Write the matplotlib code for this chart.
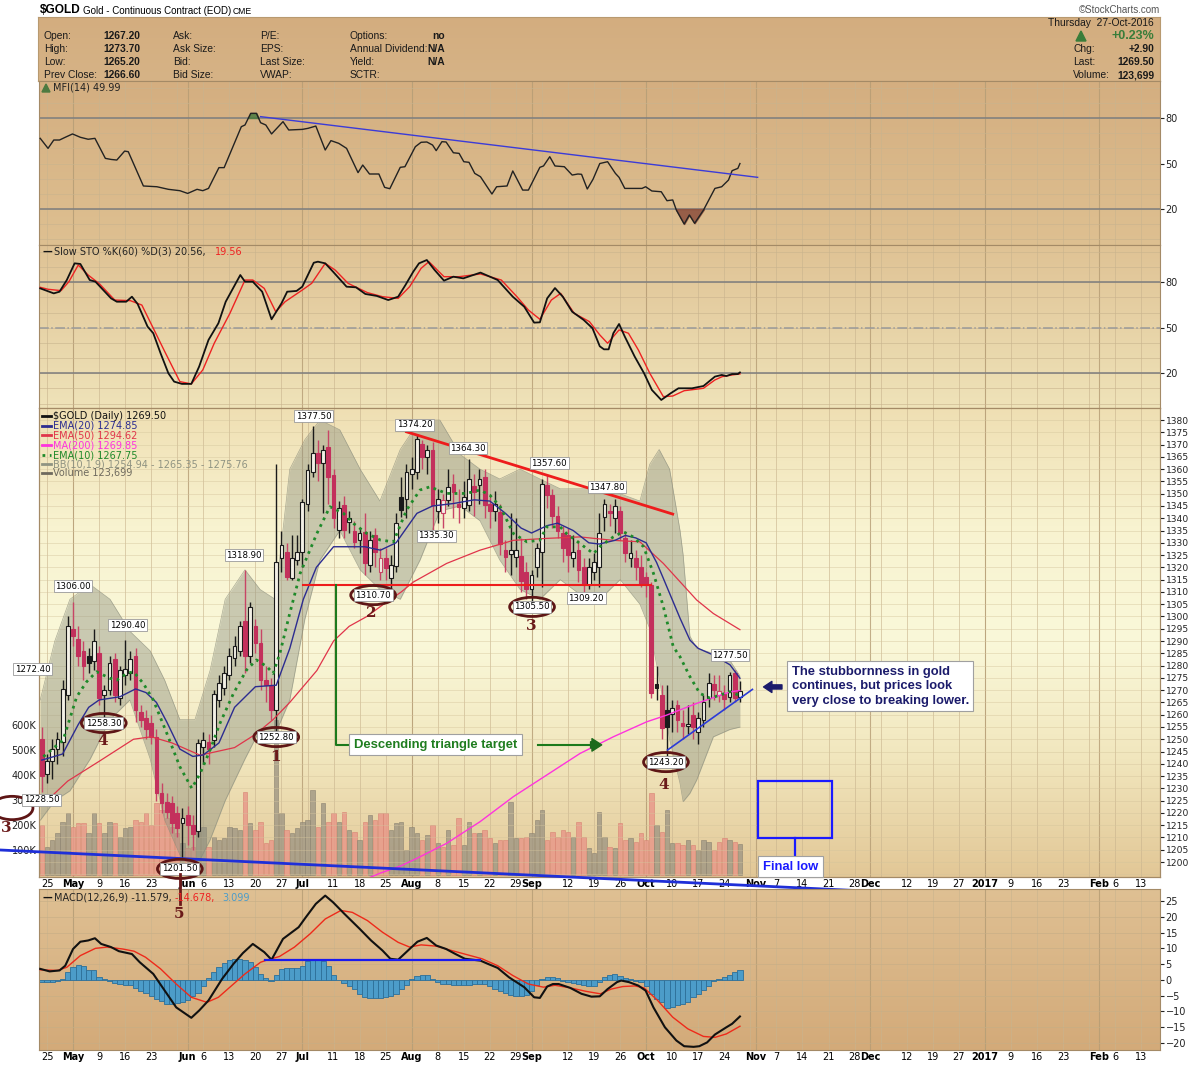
import numpy as np
import matplotlib
import matplotlib.pyplot as plt
from matplotlib.patches import Rectangle, Ellipse, Polygon
from matplotlib.lines import Line2D
from matplotlib.colors import LinearSegmentedColormap

matplotlib.use('Agg')

# ---------------------------------------------------------------
# data
# trading-day index: 0 = Mon 25-Apr-2016, -1 = Fri 22-Apr, 133 = Thu 27-Oct
# ---------------------------------------------------------------
opens = [1250, 1236, 1241, 1246, 1249, 1268, 1295, 1291, 1286, 1284,
         1282, 1285, 1268, 1270, 1282.5, 1267, 1276, 1277, 1284, 1261,
         1258.5, 1256.5, 1251, 1228, 1224.6, 1224, 1220, 1216, 1219, 1215,
         1212.6, 1247, 1249, 1249.7, 1266, 1271, 1276, 1283, 1286, 1298,
         1284, 1296, 1289, 1274, 1272, 1262, 1323.7, 1326.4, 1315.5, 1323,
         1326.4, 1346, 1359, 1366.4, 1362.3, 1369, 1357.5, 1335.3, 1345.5, 1338.6,
         1335, 1331, 1334.5, 1321, 1333, 1318, 1323.8, 1315.5, 1320.6, 1348.8,
         1348, 1358.1, 1358.8, 1370.3, 1365, 1367.6, 1343, 1342, 1347.4, 1354,
         1346, 1344, 1345.4, 1353, 1353.5, 1356.8, 1346, 1343, 1342.5, 1327,
         1325.6, 1324.3, 1324.8, 1318, 1311, 1320.2, 1326.4, 1353.5, 1349.4, 1341,
         1334, 1333, 1324, 1327, 1320, 1313, 1318, 1320, 1340.6, 1343,
         1340, 1343, 1332, 1324, 1324, 1320, 1316, 1313, 1272.7, 1268,
         1262, 1260.4, 1263.9, 1256.5, 1255.5, 1260, 1253, 1258, 1267, 1272.7,
         1268, 1268.5, 1267.3, 1276.8, 1267.2]
highs = [1255, 1244, 1250, 1253, 1274, 1300, 1306, 1296, 1290, 1287,
         1295, 1288, 1272, 1284, 1285, 1280, 1290.4, 1286, 1287, 1264,
         1262, 1260, 1254, 1232, 1228, 1227, 1223, 1222, 1223, 1219,
         1250, 1253, 1252, 1270, 1276, 1280, 1287, 1292, 1298, 1318.9,
         1306, 1299, 1295, 1280, 1275, 1362, 1335, 1330, 1333, 1333,
         1348, 1362, 1377.5, 1372, 1370, 1376, 1360, 1347, 1349, 1343,
         1339, 1336, 1342, 1335, 1336, 1328, 1328, 1325, 1342, 1357,
         1362, 1365, 1374.2, 1372, 1370, 1371, 1352, 1350, 1360, 1358,
         1352, 1355, 1364.3, 1358, 1360, 1360, 1350, 1351, 1346, 1331,
         1342, 1340, 1332, 1322, 1319, 1330, 1356, 1357.6, 1352, 1345,
         1337, 1336, 1333, 1331, 1324, 1324, 1326, 1342, 1347.8, 1346,
         1348, 1345, 1335, 1331, 1327, 1325, 1318, 1314, 1280, 1272,
         1272, 1266, 1266, 1262, 1264, 1265, 1261, 1268, 1277, 1276,
         1276, 1272, 1277.5, 1278, 1273.7]
lows = [1228.5, 1232, 1234, 1240, 1243, 1266, 1288, 1280, 1274, 1277,
        1278, 1264, 1258.3, 1268, 1265, 1264, 1272, 1274, 1257, 1255,
        1250, 1248, 1225, 1220, 1218, 1212, 1210, 1201.5, 1207, 1205,
        1210, 1240, 1240, 1247, 1263, 1268, 1274, 1280, 1284, 1277,
        1281, 1285, 1270, 1265, 1258, 1252.8, 1318, 1315, 1315, 1321,
        1320, 1343, 1357, 1355, 1342, 1346, 1336, 1332, 1332, 1334,
        1328, 1326, 1317, 1318, 1320, 1315, 1315, 1311, 1318, 1340.7,
        1340, 1352, 1356, 1360, 1358, 1335.3, 1338, 1336, 1345, 1340,
        1338, 1340, 1343, 1341, 1346, 1340, 1336, 1339, 1325, 1318,
        1317, 1320, 1310, 1307, 1305.5, 1316, 1312, 1344, 1336, 1332,
        1322, 1318, 1320, 1314, 1309.2, 1311, 1315, 1312, 1335, 1337,
        1334, 1331, 1322, 1320, 1315, 1312, 1308, 1267, 1266, 1250,
        1243.2, 1253, 1253, 1250, 1252, 1250, 1248, 1255, 1263, 1266,
        1265, 1262, 1265, 1265, 1265.2]
closes = [1235, 1241, 1246, 1250, 1270.5, 1296, 1292, 1284, 1280, 1281,
          1290, 1267, 1270, 1281, 1268, 1278, 1278.6, 1282.5, 1262, 1258,
          1254, 1251, 1228, 1224, 1220.5, 1215.7, 1214, 1218, 1215, 1211.5,
          1248.4, 1249.7, 1246, 1268.6, 1273, 1277, 1284, 1288, 1296, 1284,
          1304, 1289, 1274, 1272, 1262, 1322, 1329, 1316.2, 1323.7, 1326.4,
          1346.7, 1359.6, 1366.4, 1362.3, 1367.7, 1357, 1340, 1344.2, 1335.3, 1339.9,
          1330.5, 1333.8, 1321.6, 1331, 1326.4, 1324, 1319.8, 1321, 1338, 1343.4,
          1359, 1360.2, 1372.4, 1364.9, 1367.7, 1345.2, 1348, 1347.5, 1352.8, 1350.8,
          1344.7, 1348.8, 1356, 1350.8, 1356, 1345.5, 1343, 1346, 1329.7, 1324.3,
          1327, 1327, 1314.6, 1311, 1317, 1328, 1354, 1349.4, 1341, 1335,
          1328, 1325, 1326.4, 1318.8, 1313, 1320, 1322, 1334, 1346, 1342,
          1345, 1334, 1326, 1326, 1320, 1313.4, 1313, 1269, 1270.7, 1254.5,
          1255, 1262.6, 1257.8, 1255.2, 1256.2, 1255, 1258.5, 1265, 1273, 1270,
          1269.8, 1266.5, 1276, 1266.6, 1269.5]
volume_k = [200, 113, 140, 167, 213, 247, 193, 209, 207, 167,
            247, 207, 167, 213, 207, 153, 187, 193, 220, 213,
            247, 200, 287, 260, 227, 193, 167, 127, 107, 113,
            233, 193, 113, 153, 140, 147, 193, 187, 180, 333,
            207, 180, 213, 127, 140, 620, 247, 180, 167, 187,
            213, 220, 340, 193, 287, 213, 247, 213, 253, 180,
            173, 140, 213, 240, 220, 247, 247, 180, 207, 213,
            100, 193, 167, 140, 160, 200, 127, 113, 180, 120,
            227, 120, 213, 167, 167, 180, 147, 127, 140, 140,
            293, 147, 147, 153, 167, 220, 260, 140, 173, 153,
            180, 173, 153, 213, 153, 107, 87, 253, 153, 113,
            107, 207, 140, 147, 133, 167, 140, 327, 200, 173,
            260, 127, 127, 120, 140, 120, 100, 140, 133, 100,
            133, 147, 140, 133, 124]

# overlays: (day, value)
ema20 = [(-1, 1241.5), (3, 1244), (6, 1256), (8, 1263), (10, 1266), (14, 1267.3),
         (17, 1270.5), (19, 1269), (21, 1265), (23, 1257), (25.5, 1246), (28, 1243),
         (30, 1243.6), (33, 1248.5), (36, 1263), (40, 1271.4), (44, 1272), (46.6, 1287),
         (49.2, 1307), (51.7, 1320), (55, 1328.4), (61, 1328.4), (64, 1327), (67, 1330),
         (69, 1336), (71, 1342), (74, 1345), (78, 1346), (82, 1347.5), (85, 1347),
         (88, 1342), (91, 1336), (93, 1334), (96, 1337), (98, 1338), (101, 1335),
         (104, 1330), (106, 1329.5), (109, 1331), (111, 1333), (113, 1332), (115, 1330),
         (117, 1322), (118.3, 1315.5), (121.5, 1299.3), (123.4, 1290.4), (125, 1287),
         (127.9, 1284.3), (131.1, 1280.3), (133, 1274.85)]
ema50 = [(-1, 1223), (4, 1233), (10, 1241), (16.6, 1250), (20, 1251), (24, 1248.5),
         (29.4, 1243.5), (36, 1246.6), (40, 1252), (43.4, 1258), (46.6, 1265),
         (51.8, 1278), (55, 1290), (58, 1296), (61.4, 1300), (64.6, 1305), (68, 1310),
         (70.3, 1314), (76.7, 1321.6), (83.1, 1327), (89.5, 1331), (95.9, 1331.8),
         (102.3, 1332.4), (108.7, 1331), (113.8, 1330.4), (118.3, 1321.6),
         (124.7, 1306.7), (127.9, 1301.2), (133, 1294.62)]
ma200 = [(60, 1192), (64, 1195.5), (68, 1198.5), (71, 1201.5), (76.7, 1207.6),
         (83.1, 1216.4), (89.5, 1226.6), (95.9, 1235.4), (102.3, 1244.2), (108.7, 1251),
         (115.1, 1257.1), (118.9, 1259.8), (124.7, 1264.6), (131.1, 1269.3), (133, 1269.85)]
ema10 = [(-0.7, 1242.9), (3.1, 1249.7), (5.7, 1267.3), (7.6, 1273.4), (9.5, 1277.5),
         (12.1, 1274.8), (13.4, 1274.1), (15.3, 1276.8), (16.6, 1277.5), (18.5, 1272.7),
         (20.4, 1266), (23, 1252.4), (25.5, 1238.8), (27.8, 1230), (29.4, 1236.1),
         (31.3, 1245.6), (33.2, 1256.5), (35.8, 1268.7), (38.3, 1278.2), (40.2, 1282.3),
         (42.2, 1279.6), (43.4, 1276.8), (44.7, 1285), (46.6, 1301.3), (48.6, 1317.6),
         (51.8, 1333.8), (54.3, 1344.7), (56.9, 1342), (58.8, 1337.9), (61.4, 1333.8),
         (64, 1331.1), (66.5, 1330.4), (69, 1343.3), (71.6, 1351.5), (73.5, 1352.8),
         (76.7, 1350.1), (80.5, 1350.1), (83.1, 1351.5), (85, 1349.4), (87, 1344.7),
         (89.5, 1333.8), (92.1, 1330.4), (94.6, 1331.1), (95.9, 1336.5), (98.5, 1336.5),
         (99.7, 1333.8), (102.3, 1329.7), (104.9, 1325.6), (106.1, 1328.4), (108.7, 1332.4),
         (110.6, 1334.5), (112.5, 1332.4), (114.5, 1328.4), (116.4, 1317.6), (118.3, 1304),
         (120.2, 1287.7), (121.5, 1283.6), (123.4, 1275.5), (125.3, 1268.7), (127.3, 1266.7),
         (129.2, 1268), (131.1, 1269.4), (133, 1267.75)]
# Bollinger band (10, 1.9): (day, lower, upper)
bband = [(-1.3, 1217, 1266), (1.5, 1225, 1290), (4.4, 1229, 1307), (8.3, 1242, 1313),
         (12.1, 1258, 1307), (15.9, 1266, 1294), (19.8, 1242, 1286), (22.6, 1217, 1274),
         (25.5, 1203, 1258), (28.4, 1197, 1258), (31.3, 1209, 1278), (34.2, 1225, 1307),
         (38.0, 1242, 1319), (40.9, 1254, 1311), (43.8, 1252, 1307), (46.6, 1266, 1360),
         (49.5, 1299, 1372), (52.4, 1323, 1380), (56.2, 1335, 1376), (60.1, 1319, 1360),
         (63.9, 1311, 1347), (67.8, 1307, 1368), (71.6, 1323, 1380), (75.4, 1343, 1380),
         (79.3, 1345, 1366), (83.1, 1339, 1360), (86.9, 1323, 1356), (90.8, 1311, 1360),
         (94.6, 1307, 1356), (98.5, 1315, 1352), (102.3, 1309, 1352), (106.1, 1307, 1352),
         (110.0, 1315, 1350), (113.8, 1305, 1347), (115.7, 1295, 1362), (117.5, 1275, 1368),
         (119.5, 1250, 1360), (121.5, 1232, 1335), (122.1, 1224.6, 1325), (123.4, 1228, 1292),
         (124.7, 1233.4, 1287), (127.9, 1251, 1285), (131.1, 1254, 1282), (133, 1254.94, 1275.76)]

mfi = [(-1.3, 66.6), (0.2, 60.0), (1.3, 65.5), (2.4, 65.5), (3.5, 67.3), (4.9, 69.5),
       (6.4, 67.3), (7.9, 66.0), (9.2, 66.6), (11.2, 53.4), (12.3, 52.7), (13.4, 52.3),
       (14.9, 58.2), (15.6, 57.8), (18.5, 35.2), (21.1, 34.7), (23.3, 33.0), (25.5, 32.1),
       (27.0, 30.3), (28.8, 33.0), (29.9, 32.1), (31.0, 33.6), (33.0, 47.3), (34.0, 47.3),
       (37.3, 74.3), (38.0, 75.4), (39.1, 83.1), (40.2, 83.1), (41.0, 76.9), (42.0, 75.4),
       (43.1, 69.5), (45.3, 77.6), (46.4, 72.1), (49.0, 72.5), (50.1, 73.2), (51.6, 74.7),
       (53.4, 58.9), (54.5, 65.1), (56.0, 63.3), (57.5, 60.0), (59.7, 44.0), (60.6, 49.0),
       (61.9, 43.1), (63.7, 43.1), (64.8, 34.3), (65.8, 33.4), (67.8, 47.5), (68.7, 47.9),
       (70.7, 61.1), (71.8, 64.0), (72.9, 64.2), (74.0, 62.2), (74.7, 58.5), (75.8, 64.4),
       (76.6, 64.2), (78.0, 57.1), (79.1, 56.7), (80.0, 51.2), (81.0, 50.8), (82.1, 43.5),
       (83.2, 41.3), (85.4, 29.9), (86.3, 34.7), (88.3, 35.2), (89.4, 45.1), (91.3, 32.5),
       (92.4, 32.5), (94.6, 47.5), (95.3, 48.4), (96.5, 54.5), (97.5, 48.4), (99.3, 47.9),
       (100.8, 42.4), (101.9, 43.1), (102.6, 42.9), (103.7, 33.2), (104.8, 39.6), (106.1, 50.0),
       (107.6, 51.2), (109.1, 43.5), (109.8, 40.9), (110.9, 33.6), (114.2, 33.6), (114.9, 34.7),
       (116.1, 31.9), (117.9, 31.4), (119.0, 25.5), (120.1, 26.0), (120.8, 19.3), (122.3, 10.1),
       (123.3, 16.1), (124.3, 10.6), (126.0, 19.3), (128.2, 33.6), (129.5, 34.7), (130.8, 39.1),
       (131.5, 45.3), (132.6, 46.8), (133, 49.99)]

sto_k = [(-1.3, 76.0), (1.3, 72.7), (2.4, 73.8), (3.8, 81.5), (5.3, 92.5), (6.4, 92.1),
         (8.2, 81.5), (9.3, 80.4), (10.8, 74.9), (12.3, 69.4), (13.4, 67.2), (15.2, 67.2),
         (16.3, 70.5), (17.4, 65.7), (19.3, 50.8), (20.4, 46.4), (21.8, 33.2), (23.3, 20.0),
         (24.4, 14.5), (25.9, 13.0), (27.7, 13.0), (29.2, 24.4), (31.0, 42.0), (32.9, 53.0),
         (34.3, 67.2), (37.1, 84.8), (38.0, 80.4), (39.5, 80.4), (41.3, 73.8), (43.1, 55.6),
         (45.0, 66.1), (46.1, 73.8), (47.9, 74.3), (49.0, 77.1), (51.2, 92.9), (52.0, 93.6),
         (53.4, 92.5), (54.9, 87.0), (57.5, 77.1), (59.3, 76.7), (61.1, 72.3), (63.3, 71.0),
         (65.5, 68.3), (67.4, 70.5), (68.8, 78.2), (70.3, 87.0), (71.4, 92.5), (72.9, 94.7),
         (74.4, 88.1), (76.2, 81.1), (78.0, 83.7), (79.9, 82.6), (83.2, 86.4), (86.5, 81.5),
         (89.4, 70.5), (91.6, 63.9), (93.5, 53.4), (94.6, 53.6), (96.0, 69.4), (97.5, 76.2),
         (99.0, 70.5), (100.8, 60.6), (103.0, 55.2), (104.7, 49.7), (106.1, 37.8), (106.9, 35.8),
         (107.8, 35.8), (108.7, 46.4), (109.8, 52.5), (110.9, 44.2), (112.8, 31.0), (114.6, 20.0),
         (116.1, 9.0), (117.9, 2.4), (119.7, 6.8), (121.2, 10.1), (123.8, 10.1), (126.0, 11.6),
         (128.2, 17.8), (129.5, 18.9), (130.4, 18.2), (131.5, 19.5), (132.6, 19.5), (133, 20.56)]
sto_d = [(-1.3, 76.7), (0.2, 75.4), (2.7, 74.5), (4.2, 80.4), (6.0, 91.4), (7.9, 84.8),
         (10.1, 78.9), (13.0, 68.3), (16.0, 67.9), (18.2, 65.0), (20.4, 49.7), (22.6, 34.3),
         (25.5, 14.5), (27.7, 13.0), (29.9, 22.2), (32.1, 39.8), (35.1, 59.5), (38.0, 81.5),
         (39.5, 81.5), (41.7, 76.0), (43.9, 60.6), (45.7, 67.2), (49.0, 74.9), (50.8, 79.3),
         (53.4, 92.5), (55.3, 88.1), (57.8, 79.3), (61.5, 73.2), (64.4, 70.5), (67.4, 69.4),
         (69.6, 77.1), (71.8, 89.2), (73.3, 93.6), (76.2, 83.7), (79.1, 83.7), (83.2, 85.5),
         (87.2, 81.5), (90.2, 70.5), (92.4, 61.7), (94.6, 55.6), (96.8, 68.3), (98.6, 72.7),
         (101.2, 59.5), (104.1, 54.1), (106.1, 45.3), (107.6, 39.8), (109.8, 48.6), (111.6, 46.4),
         (113.5, 35.4), (115.7, 20.0), (118.3, 4.6), (120.1, 5.0), (122.3, 8.5), (126.0, 10.1),
         (128.2, 15.6), (129.6, 17.8), (131.5, 18.9), (133, 19.56)]

macd = [(-1.3, 3.5), (0.5, 2.7), (2.4, 3.0), (3.5, 4.5), (5.0, 9.8), (6.4, 12.1),
        (7.9, 12.5), (9.2, 13.2), (10.4, 11.4), (12.3, 10.4), (13.8, 9.1), (16.3, 8.2),
        (17.8, 5.6), (20.4, 1.9), (22.6, -3.4), (24.8, -8.7), (27.7, -12.0), (29.2, -9.7),
        (31.0, -6.5), (33.6, 0.3), (35.8, 5.1), (37.6, 8.5), (39.5, 11.4), (41.7, 8.8),
        (43.1, 6.4), (45.3, 13.0), (48.3, 16.7), (49.7, 19.9), (51.6, 24.1), (53.4, 26.7),
        (54.9, 24.6), (57.1, 20.9), (60.0, 16.2), (62.2, 12.5), (64.4, 9.3), (65.9, 6.7),
        (67.4, 6.4), (69.6, 9.8), (71.1, 12.1), (72.9, 13.3), (74.7, 10.9), (76.6, 9.8),
        (78.4, 8.2), (80.2, 6.7), (81.7, 6.4), (83.2, 6.1), (84.6, 5.1), (86.5, 3.8),
        (88.7, 0.8), (91.6, -2.3), (93.5, -5.5), (94.6, -5.7), (96.0, -2.1), (97.1, -1.3),
        (98.2, -1.3), (100.4, -2.5), (102.6, -4.4), (104.5, -5.3), (106.1, -5.2), (107.6, -2.9),
        (109.4, -0.7), (110.2, -0.2), (111.7, -0.7), (113.5, -1.8), (114.9, -3.4), (116.4, -8.7),
        (118.6, -15.0), (120.8, -19.2), (122.3, -21.0), (124.1, -21.2), (125.2, -21.0),
        (126.7, -19.8), (128.2, -17.3), (130.4, -15.0), (131.5, -13.9), (133, -11.579)]
signal = [(-1.3, 3.2), (2.0, 3.0), (3.8, 4.0), (6.4, 7.7), (9.3, 10.0), (11.5, 10.4),
          (14.5, 9.8), (16.7, 9.1), (18.9, 7.2), (21.8, 3.5), (24.8, -1.3), (27.7, -5.5),
          (30.7, -7.1), (32.9, -5.5), (35.1, -2.3), (38.0, 1.9), (41.0, 5.6), (42.4, 6.4),
          (44.6, 7.4), (47.5, 10.4), (50.5, 14.6), (53.4, 19.3), (56.4, 22.0), (58.6, 21.4),
          (61.5, 18.8), (64.4, 15.1), (67.4, 11.9), (69.6, 10.4), (71.8, 11.1), (74.7, 10.7),
          (77.7, 9.3), (80.6, 8.0), (83.5, 6.7), (86.5, 4.5), (89.4, 1.4), (92.4, -1.3),
          (95.3, -2.3), (97.5, -1.7), (100.4, -2.5), (103.4, -3.6), (106.2, -4.4), (108.3, -2.9),
          (110.5, -2.1), (112.8, -1.9), (114.6, -2.5), (117.2, -6.5), (120.1, -11.8),
          (123.0, -15.5), (126.0, -17.9), (128.2, -18.2), (130.4, -17.1), (133, -14.678)]
hist = [-0.7, -0.7, -0.6, -0.3, 0.4, 2.5, 4.0, 4.8, 4.5, 3.2,
        3.0, 1.0, 0.2, -0.2, -1.0, -1.4, -1.6, -1.5, -2.5, -3.5,
        -4.2, -5.0, -6.0, -6.8, -7.5, -7.5, -7.3, -7.0, -6.5, -5.0,
        -4.0, -2.0, 0.5, 2.5, 4.0, 5.5, 6.3, 6.5, 6.5, 6.3,
        5.8, 4.0, 2.0, 0.5, -0.5, 1.5, 3.5, 3.8, 3.8, 3.9,
        4.5, 6.0, 6.5, 6.5, 6.0, 4.5, 1.5, 0.0, -1.0, -2.0,
        -3.0, -4.5, -5.5, -5.8, -5.8, -5.8, -5.5, -5.0, -4.5, -3.0,
        -1.5, 0.3, 1.2, 1.4, 1.4, 0.2, -0.8, -1.2, -1.2, -1.5,
        -1.6, -1.5, -1.5, -1.4, -1.3, -1.3, -2.0, -3.0, -3.6, -4.2,
        -4.8, -5.0, -5.0, -4.8, -3.5, -1.5, 0.3, 0.8, 0.8, 0.5,
        -0.5, -0.8, -1.0, -1.2, -1.6, -1.8, -2.0, -0.7, 0.9, 1.7,
        2.0, 1.1, 0.5, 0.2, -0.3, -0.7, -2.0, -4.5, -6.0, -7.0,
        -9.0, -8.5, -8.0, -7.6, -7.0, -5.5, -4.4, -3.2, -2.0, -0.5,
        0.3, 0.9, 1.6, 2.4, 3.1]

# x axis labels (day index of each label)
tick_days = [0, 5, 10, 15, 20, 27, 30, 35, 40, 45, 49, 55, 60, 65, 70, 75, 80, 85, 90, 93,
             100, 105, 110, 115, 120, 125, 130, 136, 140, 145, 150, 155, 158, 165, 170, 175,
             180, 185, 190, 195, 202, 205, 210]
tick_text = ['25', 'May', '9', '16', '23', 'Jun', '6', '13', '20', '27', 'Jul', '11', '18', '25',
             'Aug', '8', '15', '22', '29', 'Sep', '12', '19', '26', 'Oct', '10', '17', '24',
             'Nov', '7', '14', '21', '28', 'Dec', '12', '19', '27', '2017', '9', '16', '23',
             'Feb', '6', '13']
bold_ticks = {'May', 'Jun', 'Jul', 'Aug', 'Sep', 'Oct', 'Nov', 'Dec', '2017', 'Feb'}
month_days = [5, 27, 49, 70, 93, 115, 136, 158, 180, 202]

# ---------------------------------------------------------------
W, H = 1200, 1067
fig = plt.figure(figsize=(12, 10.67), dpi=100)
fig.patch.set_facecolor('white')
plt.rcParams['font.family'] = ['DejaVu Sans']
ARIAL = 'Liberation Sans'


def box(x0, y0, x1, y1):
    return [x0 / W, 1 - y1 / H, (x1 - x0) / W, (y1 - y0) / H]


def ftext(x, y, s, **kw):
    kw.setdefault('va', 'center')
    return fig.text(x / W, 1 - y / H, s, **kw)


def gradient(ax, colors):
    cmap = LinearSegmentedColormap.from_list('bg', colors)
    ax.imshow(np.linspace(0, 1, 256).reshape(-1, 1), aspect='auto', cmap=cmap,
              extent=[0, 1, 0, 1], transform=ax.transAxes, zorder=0)


XL = ((39 - 47) / 5.21, (1160 - 47) / 5.21)
EDGE = '#a48a66'


def frame(ax):
    for s in ax.spines.values():
        s.set_color(EDGE)
        s.set_linewidth(0.8)
    ax.set_xlim(*XL)
    ax.set_xticks([])
    for d in range(0, 215, 5):
        ax.axvline(d, color='#c9b48e', lw=0.6, alpha=0.7, zorder=0.5)
    for d in month_days:
        ax.axvline(d, color='#b59c74', lw=0.8, alpha=0.8, zorder=0.5)


def right_ticks(ax, ticks, labels=None, size=7):
    ax.yaxis.tick_right()
    ax.set_yticks(ticks)
    if labels is not None:
        ax.set_yticklabels(labels)
    ax.tick_params(axis='y', labelsize=size, length=3, pad=1, colors='#222222')


def xlabels(ax):
    ax.set_xticks(tick_days)
    ax.set_xticklabels(tick_text)
    ax.tick_params(axis='x', labelsize=7, length=0, pad=1.5)
    for t in ax.get_xticklabels():
        if t.get_text() in bold_ticks:
            t.set_fontweight('bold')


def xy(pairs):
    a = np.array(pairs, dtype=float)
    return a[:, 0], a[:, 1]


# ---------------- header ----------------
ftext(40, 10, '$GOLD', fontsize=8.6, fontweight='bold', family=ARIAL)
ftext(83, 10.5, 'Gold - Continuous Contract (EOD)', fontsize=7, family=ARIAL)
ftext(233, 11, 'CME', fontsize=6.2, family=ARIAL)
ftext(1160, 10, '\u00a9StockCharts.com', fontsize=7, color='#555555', ha='right', family=ARIAL)

ax_h = fig.add_axes(box(38, 17, 1160, 81))
gradient(ax_h, ['#d3ad7f', '#d6b386'])
ax_h.set_xticks([])
ax_h.set_yticks([])
for s in ax_h.spines.values():
    s.set_color('#b89a70')

hdr = dict(fontsize=7.4, family=ARIAL, color='#1a1a1a')
rows = [36, 49, 62, 75]
for y, lab, val in zip(rows, ['Open:', 'High:', 'Low:', 'Prev Close:'],
                       ['1267.20', '1273.70', '1265.20', '1266.60']):
    ftext(44, y, lab, **hdr)
    ftext(140, y, val, ha='right', fontweight='bold', **hdr)
for y, a, b, cc in zip(rows, ['Ask:', 'Ask Size:', 'Bid:', 'Bid Size:'],
                       ['P/E:', 'EPS:', 'Last Size:', 'VWAP:'],
                       ['Options:', 'Annual Dividend:', 'Yield:', 'SCTR:']):
    ftext(173, y, a, **hdr)
    ftext(260, y, b, **hdr)
    ftext(350, y, cc, **hdr)
for y, v in zip(rows[:3], ['no', 'N/A', 'N/A']):
    ftext(445, y, v, ha='right', fontweight='bold', **hdr)
ftext(1154, 23, 'Thursday  27-Oct-2016', ha='right', **hdr)
ftext(1154, 36, '+0.23%', ha='right', fontsize=9, fontweight='bold', color='#3a7d3a', family=ARIAL)
fig.add_artist(Polygon([[1076 / W, 1 - 41 / H], [1086 / W, 1 - 41 / H], [1081 / W, 1 - 31 / H]],
                       closed=True, color='#3a7d3a', transform=fig.transFigure))
for y, lab, val in zip(rows[1:], ['Chg:', 'Last:', 'Volume:'], ['+2.90', '1269.50', '123,699']):
    ftext(1073, y, lab, ha='left', **hdr)
    ftext(1154, y, val, ha='right', fontweight='bold', **hdr)

# ---------------- MFI panel ----------------
ax_m = fig.add_axes(box(39, 81, 1160, 245))
gradient(ax_m, ['#d4ae80', '#dec091'])
frame(ax_m)
ax_m.set_ylim(-3.7, 104.4)
for v in range(0, 101, 10):
    ax_m.axhline(v, color='#c9b48e', lw=0.6, alpha=0.7, zorder=0.5)
for v in (80, 20):
    ax_m.axhline(v, color='#7d7d7d', lw=1.1, zorder=1)
right_ticks(ax_m, [80, 50, 20])
md, mv = xy(mfi)
ax_m.plot(md, mv, color='#222222', lw=1, zorder=3)
ax_m.fill_between(md, mv, 20, where=mv < 20, interpolate=True, color='#8b4e3c', alpha=0.85, zorder=2)
ax_m.fill_between(md, mv, 80, where=mv > 80, interpolate=True, color='#4d7a40', alpha=0.85, zorder=2)
ax_m.plot([41.0, 136.4], [80.9, 40.9], color='#3b3bd8', lw=1, zorder=4)
ftext(53, 88, 'MFI(14) 49.99', fontsize=7, color='#222222')
fig.add_artist(Polygon([[42 / W, 1 - 92 / H], [46 / W, 1 - 84 / H], [50 / W, 1 - 92 / H]],
                       closed=True, color='#4d7a40', transform=fig.transFigure))

# ---------------- Slow STO panel ----------------
ax_s = fig.add_axes(box(39, 245, 1160, 408))
gradient(ax_s, ['#dfc294', '#efe3b9'])
frame(ax_s)
ax_s.set_ylim(-2.9, 104.6)
for v in range(0, 101, 10):
    ax_s.axhline(v, color='#c9b48e', lw=0.6, alpha=0.7, zorder=0.5)
for v in (80, 20):
    ax_s.axhline(v, color='#7d7d7d', lw=1.1, zorder=1)
ax_s.axhline(50, color='#9a9a9a', lw=1.1, ls='-.', zorder=1)
right_ticks(ax_s, [80, 50, 20])
kd, kv = xy(sto_k)
dd, dv = xy(sto_d)
ax_s.plot(dd, dv, color='#ee2222', lw=1, zorder=3)
ax_s.plot(kd, kv, color='#111111', lw=1.3, zorder=4)
ftext(42, 252, '\u2014', fontsize=7, color='#111111', fontweight='bold')
ftext(54, 252, 'Slow STO %K(60) %D(3) 20.56,', fontsize=7, color='#222222')
ftext(215, 252, '19.56', fontsize=7, color='#ee2222')

# ---------------- price panel ----------------
days = np.arange(-1, -1 + len(closes))
o = np.array(opens, dtype=float)
h = np.array(highs, dtype=float)
lo = np.array(lows, dtype=float)
c = np.array(closes, dtype=float)
vol = np.array(volume_k, dtype=float)
prev = np.r_[c[0] + 1, c[:-1]]
up_day = c >= prev

ax_v = fig.add_axes(box(39, 408, 1160, 877))
gradient(ax_v, ['#efdfb3', '#f8f3d0', '#faf8d9', '#f1e6bd', '#e2c796'])
frame(ax_v)
ax_v.set_ylim(-8, 1868)
vd = days[:len(vol)]
ax_v.bar(vd, vol, width=0.85, bottom=0,
         color=np.where(up_day[:len(vol)], '#a39a86', '#e8998a'),
         edgecolor=np.where(up_day[:len(vol)], '#8d8472', '#d98474'), lw=0.5, alpha=0.85, zorder=2)
ax_v.set_yticks([100, 200, 300, 400, 500, 600])
ax_v.set_yticklabels(['100K', '200K', '300K', '400K', '500K', '600K'])
ax_v.tick_params(axis='y', labelsize=7, length=0, pad=2, colors='#222222')

ax_p = fig.add_axes(box(39, 408, 1160, 877))
ax_p.patch.set_alpha(0)
for s in ax_p.spines.values():
    s.set_color(EDGE)
    s.set_linewidth(0.8)
ax_p.set_xlim(*XL)
ax_p.set_ylim(1193.9, 1384.9)
for v in range(1195, 1385, 5):
    ax_p.axhline(v, color='#d4c49c', lw=0.5, alpha=0.6, zorder=0.5)
right_ticks(ax_p, list(range(1200, 1381, 5)), size=6.6)
xlabels(ax_p)

bd, blo, bup = np.array(bband, dtype=float).T
ax_p.fill_between(bd, blo, bup, color='#8f9382', alpha=0.45, lw=0, zorder=1)
ax_p.plot(bd, blo, color='#8a8d7c', lw=0.5, alpha=0.7, zorder=1)
ax_p.plot(bd, bup, color='#8a8d7c', lw=0.5, alpha=0.7, zorder=1)

# candles (StockCharts: black/red vs prior close, hollow/filled vs open)
red = '#c3305c'
line_col = np.where(up_day, '#1a1a1a', '#c84566')
line_col[0] = '#c84566'
filled = c < o
face = np.where(filled, np.where(up_day, '#1a1a1a', red), '#f3f0e6')
face[0] = red
ax_p.vlines(days, lo, h, colors=line_col, lw=1, zorder=3)
body = np.maximum(np.abs(c - o), 0.35)
ax_p.bar(days, body, bottom=np.minimum(o, c), width=0.72, color=face,
         edgecolor=np.where(face == red, red, line_col), lw=0.8, zorder=4)

for pairs, col, lw, ls in [(ema50, '#e0344a', 0.9, '-'), (ma200, '#ff33dd', 1.0, '-'),
                           (ema20, '#2c2c90', 1.0, '-'), (ema10, '#1f8a2a', 2.0, ':')]:
    xd, yd = xy(pairs)
    ax_p.plot(xd, yd, color=col, lw=lw, ls=ls, zorder=5)

# legend lines
leg = [(416, '#111111', '$GOLD (Daily) 1269.50', '-'),
       (425.5, '#2c2c90', 'EMA(20) 1274.85', '-'),
       (435, '#e0344a', 'EMA(50) 1294.62', '-'),
       (445, '#ff33dd', 'MA(200) 1269.85', '-'),
       (455, '#1f8a2a', 'EMA(10) 1267.75', ':'),
       (464.5, '#8f9382', 'BB(10,1.9) 1254.94 - 1265.35 - 1275.76', '-'),
       (473.5, '#6e6a5e', 'Volume 123,699', '-')]
for y, col, s, ls in leg:
    fig.add_artist(Line2D([42 / W, 51 / W], [1 - y / H, 1 - y / H], color=col, lw=2, ls=ls,
                          transform=fig.transFigure))
    ftext(53, y, s, fontsize=7, color=col)

# price flags
lab_kw = dict(fontsize=6.2, ha='center', va='center', zorder=8, clip_on=False,
              bbox=dict(boxstyle='square,pad=0.18', fc='white', ec='#9a9a9a', lw=0.6))
flags = [(5, 1312.4, '1306.00'), (15.5, 1296.5, '1290.40'), (37.8, 1325.0, '1318.90'),
         (51.2, 1381.6, '1377.50'), (70.6, 1378.0, '1374.20'), (80.8, 1368.6, '1364.30'),
         (96.4, 1362.5, '1357.60'), (107.5, 1352.7, '1347.80'), (74.7, 1332.8, '1335.30'),
         (103.5, 1307.5, '1309.20'), (-2.8, 1278.6, '1272.40'), (131.1, 1284.3, '1277.50'),
         (-1.0, 1225.3, '1228.50')]
for d, p, s in flags:
    ax_p.text(d, p, s, **lab_kw)
circled = [(62.6, 1308.7, '1310.70'), (93.1, 1303.9, '1305.50'), (10.9, 1256.6, '1258.30'),
           (44.0, 1250.9, '1252.80'), (25.5, 1197.2, '1201.50'), (118.8, 1240.7, '1243.20')]
for d, p, s in circled:
    ax_p.text(d, p, s, **lab_kw)
    ax_p.add_patch(Ellipse((d, p), 8.6, 7.8, fill=False, ec='#5e1616', lw=2, zorder=7,
                           clip_on=False))
ax_p.add_patch(Ellipse((-6.7, 1222.0), 8.0, 9.5, fill=False, ec='#5e1616', lw=2, zorder=7,
                       clip_on=False))

wave_kw = dict(fontsize=11, fontweight='bold', color='#6b1a1a', family='DejaVu Serif',
               ha='center', va='center', zorder=8, clip_on=False)
for d, p, s in [(10.6, 1249.3, '4'), (43.8, 1242.8, '1'), (62.2, 1301.4, '2'),
                (92.9, 1296.1, '3'), (118.4, 1231.4, '4'), (-7.9, 1213.9, '3')]:
    ax_p.text(d, p, s, **wave_kw)

# triangle lines
ax_p.plot([69.0, 120.1], [1375.2, 1341.7], color='#ee1c1c', lw=2, zorder=6)
ax_p.plot([49.2, 115.9], [1312.8, 1312.8], color='#ee1c1c', lw=1.5, zorder=6)
ax_p.plot([55.5, 55.5, 58.7], [1312.8, 1247.7, 1247.7], color='#1c7a1c', lw=1.5, zorder=6)
ax_p.plot([94.2, 104.5], [1247.7, 1247.7], color='#1c7a1c', lw=1.5, zorder=6)
ax_p.annotate('', xy=(107.0, 1247.7), xytext=(103.8, 1247.7), zorder=7,
              arrowprops=dict(arrowstyle='simple,head_width=0.9,head_length=0.7,tail_width=0.45',
                              color='#1c6a1c'))
note_box = dict(boxstyle='square,pad=0.35', fc='white', ec='#a0a0a0', lw=0.8)
ax_p.text(58.9, 1247.7, 'Descending triangle target', fontsize=9.4, fontweight='bold',
          family=ARIAL, color='#1f7d1f', ha='left', va='center', zorder=8, bbox=note_box)

# rising support and long trend line
ax_p.plot([119.1, 135.4], [1245.6, 1270.3], color='#2b3bd8', lw=1.2, zorder=6)
ax_p.plot([-9.02, 165.1], [1204.9, 1187.4], color='#1f2fd8', lw=2, zorder=6, clip_on=False)

# comment box
ax_p.annotate('', xy=(137.0, 1271.3), xytext=(141.6, 1271.3), zorder=7,
              arrowprops=dict(arrowstyle='simple,head_width=0.8,head_length=0.6,tail_width=0.3',
                              color='#1b1b6b'))
ax_p.text(142.9, 1271.6,
          'The stubbornness in gold\ncontinues, but prices look\nvery close to breaking lower.',
          fontsize=9.4, fontweight='bold', family=ARIAL, color='#1b1b6b', ha='left', va='center',
          linespacing=1.3, zorder=8, bbox=note_box)

ax_p.add_patch(Rectangle((136.5, 1209.8), 14.2, 23.2, fill=False, ec='#1a1aff', lw=1.6, zorder=7))
ax_p.plot([143.6, 143.6], [1209.8, 1202.1], color='#1a1aff', lw=1.6, zorder=7)
ax_p.text(137.4, 1198.1, 'Final low', fontsize=9.4, fontweight='bold', family=ARIAL,
          color='#1a1aff', ha='left', va='center', zorder=8, bbox=note_box)

# ---------------- MACD panel ----------------
ax_d = fig.add_axes(box(39, 889, 1160, 1050))
gradient(ax_d, ['#dfc093', '#d3aa79'])
frame(ax_d)
ax_d.set_ylim(-22.2, 28.8)
for v in range(-20, 26, 5):
    ax_d.axhline(v, color='#c6ae86', lw=0.6, alpha=0.7, zorder=0.5)
right_ticks(ax_d, list(range(-20, 26, 5)))
xlabels(ax_d)
hd = np.arange(-1, -1 + len(hist))
ax_d.bar(hd, hist, width=1.0, color='#4c9cc9', edgecolor='#2d6f98', lw=0.6, zorder=2)
sd, sv = xy(signal)
ax_d.plot(sd, sv, color='#ee2a1a', lw=1, zorder=3)
mdd, mdv = xy(macd)
ax_d.plot(mdd, mdv, color='#111111', lw=1.5, zorder=4)
ax_d.plot([41.9, 83.2], [6.44, 6.44], color='#1a1aee', lw=1.6, zorder=5)
ftext(42, 898, '\u2014', fontsize=7, color='#111111', fontweight='bold')
ftext(54, 898, 'MACD(12,26,9) -11.579,', fontsize=7, color='#222222')
ftext(175, 898, '-14.678,', fontsize=7, color='#ee2222')
ftext(222, 898, '3.099', fontsize=7, color='#4c9cc9')
ax_d.text(25.3, 21.0, '5', **wave_kw)
fig.add_artist(Line2D([180 / W, 180 / W], [1 - 874 / H, 1 - 904 / H], color='#6b1a1a', lw=2,
                      transform=fig.transFigure))

fig.savefig('out.png', dpi=100, facecolor='white')
